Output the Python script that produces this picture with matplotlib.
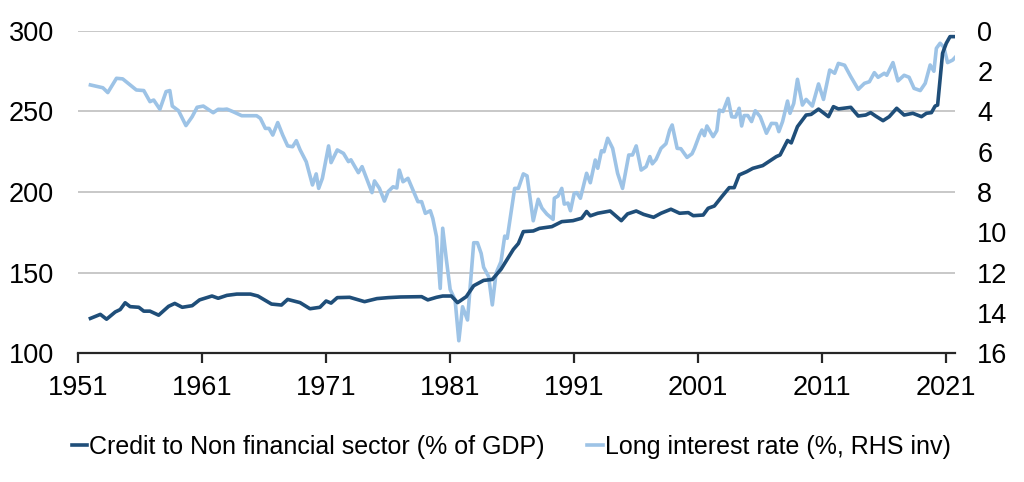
import matplotlib
matplotlib.use("Agg")
import matplotlib.pyplot as plt

# ---------------- data ----------------
credit_years = [1952.0, 1952.8, 1953.3, 1954.0, 1954.4, 1954.8, 1955.2, 1955.9, 1956.3, 1956.8,
                1957.5, 1958.3, 1958.8, 1959.4, 1960.2, 1960.8, 1961.8, 1962.3, 1963.0, 1963.8,
                1964.9, 1965.5, 1966.6, 1967.4, 1967.9, 1968.9, 1969.7, 1970.5, 1971.0, 1971.4,
                1971.9, 1972.9, 1974.1, 1975.1, 1976.0, 1977.0, 1978.7, 1979.2, 1979.9, 1980.4,
                1981.1, 1981.6, 1982.3, 1982.9, 1983.7, 1984.4, 1985.1, 1986.1, 1986.5, 1986.9,
                1987.7, 1988.2, 1989.2, 1990.0, 1990.9, 1991.6, 1992.0, 1992.3, 1992.9, 1993.9,
                1994.8, 1995.3, 1996.0, 1996.6, 1997.4, 1998.0, 1998.8, 1999.5, 2000.2, 2000.6,
                2001.4, 2001.8, 2002.3, 2002.9, 2003.5, 2003.9, 2004.3, 2004.9, 2005.4, 2006.2,
                2007.3, 2007.6, 2008.2, 2008.5, 2009.0, 2009.7, 2010.1, 2010.7, 2011.5, 2011.9,
                2012.3, 2013.3, 2013.9, 2014.5, 2014.9, 2015.3, 2015.9, 2016.4, 2017.0, 2017.6,
                2018.3, 2019.0, 2019.4, 2019.8, 2020.1, 2020.3, 2020.7, 2021.0, 2021.3, 2021.9]
credit_vals = [121.5, 124.0, 121.0, 125.5, 127.0, 131.2, 128.8, 128.4, 126.0, 126.0,
               123.5, 129.0, 130.8, 128.4, 129.4, 133.0, 135.4, 134.0, 135.8, 136.6,
               136.6, 135.4, 130.4, 129.8, 133.3, 131.3, 127.5, 128.4, 132.3, 131.0,
               134.4, 134.6, 131.9, 133.8, 134.4, 134.8, 135.0, 133.0, 134.6, 135.4,
               135.4, 131.3, 135.0, 141.8, 145.1, 145.7, 152.0, 164.4, 168.0, 175.4,
               175.8, 177.4, 178.5, 181.6, 182.2, 183.7, 187.9, 185.2, 186.8, 188.2,
               182.2, 186.4, 188.2, 186.1, 184.3, 186.8, 189.3, 186.8, 187.2, 185.3,
               185.7, 189.9, 191.3, 197.1, 202.7, 202.7, 210.6, 212.6, 214.7, 216.4,
               222.0, 223.0, 232.0, 230.5, 240.6, 247.8, 248.2, 251.5, 246.8, 253.0,
               251.6, 252.6, 247.2, 247.8, 249.3, 247.2, 244.3, 246.8, 252.0, 247.8,
               248.9, 246.8, 248.9, 249.3, 253.4, 254.0, 286.2, 292.4, 296.5, 296.5]

rate_years = [1952.0, 1953.0, 1953.4, 1954.1, 1954.6, 1955.7, 1956.3, 1956.8, 1957.1, 1957.6,
              1958.1, 1958.4, 1958.6, 1959.1, 1959.7, 1960.2, 1960.6, 1961.1, 1961.9, 1962.3,
              1962.7, 1963.0, 1963.5, 1964.2, 1965.4, 1965.7, 1966.1, 1966.4, 1966.7, 1967.1,
              1967.5, 1967.9, 1968.3, 1968.6, 1968.9, 1969.4, 1969.9, 1970.2, 1970.4, 1970.7,
              1971.2, 1971.4, 1971.9, 1972.4, 1972.8, 1973.0, 1973.6, 1973.9, 1974.7, 1974.9,
              1975.3, 1975.7, 1976.0, 1976.4, 1976.7, 1976.9, 1977.2, 1977.6, 1978.0, 1978.4,
              1978.7, 1979.0, 1979.4, 1979.6, 1979.9, 1980.2, 1980.4, 1980.7, 1981.0, 1981.4,
              1981.7, 1982.0, 1982.4, 1982.9, 1983.2, 1983.5, 1983.7, 1984.1, 1984.4, 1984.7,
              1985.1, 1985.4, 1985.6, 1986.2, 1986.5, 1986.9, 1987.2, 1987.7, 1988.1, 1988.4,
              1988.8, 1989.3, 1989.4, 1989.7, 1990.0, 1990.2, 1990.5, 1990.7, 1991.0, 1991.2,
              1991.5, 1992.0, 1992.3, 1992.7, 1992.9, 1993.2, 1993.4, 1993.7, 1994.1, 1994.5,
              1994.9, 1995.4, 1995.7, 1996.0, 1996.4, 1996.8, 1997.1, 1997.3, 1997.6, 1998.0,
              1998.4, 1998.7, 1998.9, 1999.3, 1999.6, 2000.1, 2000.5, 2000.7, 2001.1, 2001.3,
              2001.5, 2001.7, 2002.2, 2002.5, 2002.7, 2003.0, 2003.4, 2003.7, 2004.0, 2004.3,
              2004.5, 2004.7, 2005.0, 2005.3, 2005.6, 2006.0, 2006.5, 2006.9, 2007.3, 2007.5,
              2007.8, 2008.2, 2008.4, 2008.7, 2009.0, 2009.4, 2009.7, 2010.2, 2010.7, 2011.1,
              2011.6, 2012.0, 2012.3, 2012.8, 2013.3, 2013.9, 2014.4, 2014.8, 2015.2, 2015.5,
              2016.0, 2016.2, 2016.7, 2017.1, 2017.6, 2018.0, 2018.4, 2018.9, 2019.3, 2019.7,
              2020.0, 2020.2, 2020.5, 2020.8, 2021.1, 2021.5, 2021.9]
rate_vals = [2.68, 2.82, 3.06, 2.35, 2.38, 2.93, 2.96, 3.51, 3.43, 3.89,
             3.01, 2.96, 3.73, 3.96, 4.70, 4.26, 3.79, 3.73, 4.06, 3.89,
             3.90, 3.88, 4.01, 4.21, 4.21, 4.34, 4.84, 4.84, 5.17, 4.55,
             5.17, 5.71, 5.75, 5.45, 5.90, 6.50, 7.65, 7.10, 7.82, 7.32,
             5.71, 6.54, 5.91, 6.08, 6.49, 6.40, 7.04, 6.74, 8.03, 7.45,
             7.82, 8.45, 7.98, 7.74, 7.80, 6.91, 7.49, 7.32, 7.90, 8.48,
             8.48, 9.06, 8.93, 9.31, 10.22, 12.79, 9.80, 11.38, 12.84, 13.37,
             15.39, 13.70, 14.36, 10.52, 10.52, 11.05, 11.74, 12.20, 13.61, 12.04,
             11.46, 10.19, 10.30, 7.82, 7.82, 7.10, 7.20, 9.43, 8.36, 8.80,
             9.10, 9.36, 8.31, 8.20, 7.82, 8.60, 8.55, 8.93, 8.07, 8.03,
             8.31, 7.07, 7.54, 6.41, 6.82, 5.95, 6.00, 5.33, 5.83, 7.07,
             7.82, 6.16, 6.16, 5.71, 6.91, 6.74, 6.24, 6.60, 6.38, 5.83,
             5.60, 4.92, 4.67, 5.83, 5.85, 6.28, 6.10, 5.83, 5.17, 4.92,
             5.20, 4.72, 5.25, 4.95, 3.93, 4.00, 3.35, 4.26, 4.28, 3.84,
             4.72, 4.20, 4.20, 4.50, 3.96, 4.26, 5.08, 4.59, 4.60, 5.00,
             4.50, 3.48, 4.09, 3.60, 2.40, 3.68, 3.40, 3.73, 2.63, 3.40,
             1.94, 2.10, 1.61, 1.70, 2.27, 2.90, 2.60, 2.52, 2.07, 2.30,
             2.10, 2.20, 1.57, 2.48, 2.20, 2.30, 2.85, 2.96, 2.60, 1.69,
             2.00, 0.86, 0.61, 0.80, 1.57, 1.45, 1.19]

year_ticks = [1951, 1961, 1971, 1981, 1991, 2001, 2011, 2021]
left_ticks = [100, 150, 200, 250, 300]
right_major = [0, 4, 8, 12, 16]      # these line up with the left ticks -> gridlines
right_minor = [2, 6, 10, 14]         # labelled only

credit_label = "Credit to Non financial sector (% of GDP)"
rate_label = "Long interest rate (%, RHS inv)"

DARK = "#1f4e79"
LIGHT = "#9dc3e6"
GRID = "#bfbfbf"
FS = 19.5
LEG_FS = 18

plt.rcParams["font.family"] = ["Liberation Sans", "DejaVu Sans"]

fig = plt.figure(figsize=(10.24, 4.82), dpi=100)
ax = fig.add_axes([0.0762, 0.2676, 0.8564, 0.6681])
ax2 = ax.twinx()

# light series sits underneath, so the grid goes on its axes
ax2.plot(rate_years, rate_vals, color=LIGHT, lw=2.6, label=rate_label)
ax2.set_ylim(16, 0)
ax2.set_yticks(right_major)
ax2.set_yticks(right_minor, minor=True)
ax2.set_yticklabels([str(v) for v in right_minor], minor=True)
ax2.yaxis.grid(True, which="major", color=GRID, lw=1.2)
ax2.set_axisbelow(True)

ax.plot(credit_years, credit_vals, color=DARK, lw=2.6, label=credit_label)
ax.set_ylim(100, 300)
ax.set_yticks(left_ticks)
ax.set_xlim(1951, 2021.7)
ax.set_xticks(year_ticks)

ax.set_zorder(ax2.get_zorder() + 1)
ax.patch.set_visible(False)

for a in (ax, ax2):
    for side in ("top", "left", "right"):
        a.spines[side].set_visible(False)
ax.spines["bottom"].set_linewidth(1.6)
ax.spines["bottom"].set_color("#262626")
ax2.spines["bottom"].set_visible(False)

ax.tick_params(axis="x", length=7, width=1.6, color="#262626", labelsize=FS, pad=8.5)
ax.tick_params(axis="y", length=0, labelsize=FS, pad=17.5)
ax2.tick_params(axis="y", which="both", length=0, labelsize=FS, pad=16)

h1, l1 = ax.get_legend_handles_labels()
h2, l2 = ax2.get_legend_handles_labels()
fig.legend(h1 + h2, l1 + l2, loc="center", bbox_to_anchor=(0.499, 0.073), ncol=2,
           frameon=False, fontsize=LEG_FS, handlelength=0.62, handletextpad=0.08,
           columnspacing=1.7)

fig.savefig("out.png", dpi=100)
